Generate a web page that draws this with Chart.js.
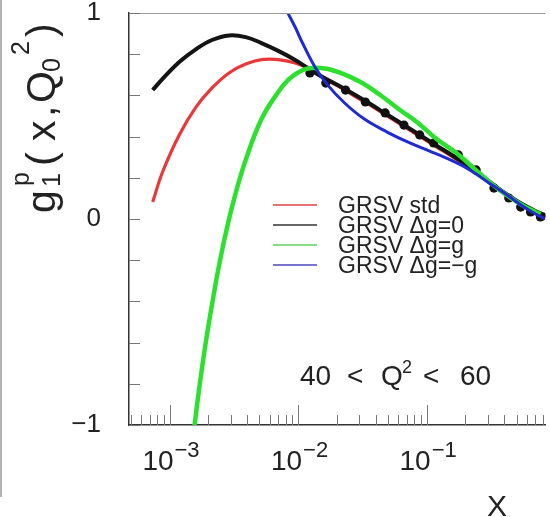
<!DOCTYPE html>
<html>
<head>
<meta charset="utf-8">
<script src="https://cdn.jsdelivr.net/npm/chart.js@4.4.0/dist/chart.umd.min.js"></script>
<style>
  html, body { margin: 0; padding: 0; background: #fff; overflow: hidden; }
</style>
</head>
<body>
<canvas id="plot" width="550" height="517"></canvas>
<script>
// ---- data -------------------------------------------------------------------
const stdX = [7.4e-4, 8.83e-4, 1.19e-3, 1.61e-3, 2.14e-3, 2.9e-3, 3.91e-3, 5.19e-3, 7.01e-3, 9.48e-3, 0.0119, 0.015,
  0.0203, 0.0274, 0.0365, 0.0492, 0.0665, 0.0883, 0.119, 0.161, 0.214, 0.29, 0.391, 0.519, 0.701, 0.948];
const stdY = [0.083, 0.228, 0.408, 0.544, 0.636, 0.709, 0.752, 0.774, 0.774, 0.757, 0.731, 0.692,
  0.646, 0.597, 0.551, 0.5, 0.449, 0.401, 0.35, 0.299, 0.248, 0.187, 0.126, 0.078, 0.034, 0.002];

const zeroX = [7.4e-4, 8.83e-4, 1.19e-3, 1.61e-3, 2.14e-3, 2.9e-3, 3.91e-3, 5.19e-3, 7.01e-3, 9.48e-3, 0.0119, 0.015,
  0.0203, 0.0274, 0.0365, 0.0492, 0.0665, 0.0883, 0.119, 0.161, 0.214, 0.29, 0.391, 0.519, 0.701, 0.948];
const zeroY = [0.626, 0.68, 0.762, 0.825, 0.869, 0.891, 0.883, 0.854, 0.816, 0.772, 0.733, 0.694,
  0.65, 0.604, 0.558, 0.507, 0.456, 0.408, 0.357, 0.306, 0.255, 0.194, 0.133, 0.083, 0.039, 0.005];

const plusX = [1.56e-3, 1.671e-3, 1.794e-3, 1.96e-3, 2.143e-3, 2.382e-3, 2.698e-3, 3.162e-3, 3.91e-3, 5.19e-3, 7.01e-3,
  8.38e-3, 0.01, 0.01194, 0.01615, 0.02143, 0.03055, 0.0435, 0.06197, 0.08377, 0.1194, 0.1702, 0.2559, 0.3275,
  0.4508, 0.5873, 0.7667];
const plusY = [-1.01, -0.859, -0.718, -0.558, -0.413, -0.252, -0.087, 0.092, 0.286, 0.485, 0.617,
  0.675, 0.711, 0.731, 0.731, 0.709, 0.665, 0.602, 0.529, 0.471, 0.388, 0.32, 0.223, 0.165,
  0.102, 0.058, 0.024];

const minusX = [8.09e-3, 9.48e-3, 0.01054, 0.01352, 0.01701, 0.023, 0.03276, 0.04924, 0.07395, 0.1055, 0.1425,
  0.1927, 0.2424, 0.3054, 0.3912, 0.4666, 0.5873, 0.7018, 0.8375];
const minusY = [1.015, 0.932, 0.869, 0.738, 0.65, 0.563, 0.485, 0.422, 0.369, 0.33, 0.296,
  0.257, 0.218, 0.175, 0.131, 0.097, 0.053, 0.024, 0.0];

// measured points
const dataX = [0.01236, 0.01642, 0.02339, 0.03335, 0.04753, 0.0665, 0.0883, 0.1132, 0.1762, 0.2424, 0.3334,
  0.4348, 0.5383, 0.6425, 0.7667];
const dataY = [0.709, 0.66, 0.626, 0.568, 0.515, 0.456, 0.408, 0.369, 0.311, 0.238, 0.15,
  0.102, 0.058, 0.034, 0.01];

// axes
const xMin = 4.84e-4, xMax = 0.838;
const xTickExps = [-3, -2, -1];
const yTickValues = [-1, 0, 1];
const yTickLabels = ["\u22121", "0", "1"];

const legendLabels = ["GRSV std", "GRSV \u0394g=0", "GRSV \u0394g=g", "GRSV \u0394g=\u2212g"];
const FONT = '"Liberation Sans", Arial, Helvetica, sans-serif';

function pts(xs, ys) {
  return xs.map((x, i) => ({ x: x, y: ys[i] }));
}

////ROOT style frame, inward ticks and texts////////////////////////////////////
const rootStyle = {
  id: "rootStyle",
  afterDraw(chart) {
    const ctx = chart.ctx;
    const a = chart.chartArea;
    const xs = chart.scales.x, ys = chart.scales.y;
    ctx.save();

    // edge of neighbouring panel
    ctx.strokeStyle = "#999";
    ctx.lineWidth = 1.5;
    ctx.beginPath(); ctx.moveTo(1, 0); ctx.lineTo(1, 497); ctx.stroke();

    // top frame line
    ctx.strokeStyle = "#9a9a9a";
    ctx.lineWidth = 1;
    ctx.beginPath(); ctx.moveTo(a.left, a.top + 0.5); ctx.lineTo(a.right, a.top + 0.5); ctx.stroke();

    // y ticks pointing inward
    ctx.strokeStyle = "#777";
    ctx.lineWidth = 1;
    ys.ticks.forEach(t => {
      const py = Math.round(ys.getPixelForValue(t.value)) + 0.5;
      ctx.beginPath(); ctx.moveTo(a.left, py); ctx.lineTo(a.left + 11, py); ctx.stroke();
    });

    // x ticks pointing inward
    for (let d = -4; d <= 0; d++) {
      for (let m = 1; m <= 9; m++) {
        const v = m * Math.pow(10, d);
        if (v < xMin || v > xMax) continue;
        const px = Math.round(xs.getPixelForValue(v)) + 0.5;
        const len = m === 1 ? 20 : 10;
        ctx.beginPath(); ctx.moveTo(px, a.bottom); ctx.lineTo(px, a.bottom - len); ctx.stroke();
      }
    }

    // x tick labels 10^n
    ctx.fillStyle = "#222";
    ctx.textBaseline = "alphabetic";
    xTickExps.forEach(e => {
      const px = xs.getPixelForValue(Math.pow(10, e));
      ctx.font = "28px " + FONT;
      ctx.textAlign = "right";
      ctx.fillText("10", px + 4, 470);
      ctx.font = "22px " + FONT;
      ctx.textAlign = "left";
      ctx.fillText("\u2212" + Math.abs(e), px + 5, 457);
    });

    // x title
    ctx.font = "30px " + FONT;
    ctx.textAlign = "center";
    ctx.fillText("X", 497, 516);

    // y title g1p(x,Q0^2)
    const titleParts = [
      ["g", 0, "main"], ["1", 26, "sub"], ["p", 27, "sup"], ["(", 47, "main"], ["x", 72, "main"],
      [",", 96, "main"], ["Q", 110, "main"], ["0", 141, "sub"], ["2", 158, "sup"], [")", 176, "main"]
    ];
    ctx.save();
    ctx.translate(55, 213);
    ctx.rotate(-Math.PI / 2);
    ctx.textAlign = "left";
    titleParts.forEach(p => {
      ctx.font = (p[2] === "main" ? "41px " : "25px ") + FONT;
      const dy = p[2] === "sub" ? 5 : p[2] === "sup" ? -26 : 0;
      ctx.fillText(p[0], p[1], dy);
    });
    ctx.restore();

    // legend
    ctx.font = "23px " + FONT;
    ctx.textAlign = "left";
    const legendSets = chart.data.datasets.filter(ds => ds.legendOrder !== undefined)
      .sort((p, q) => p.legendOrder - q.legendOrder);
    legendSets.forEach((ds, i) => {
      const ry = 205 + i * 20;
      ctx.strokeStyle = ds.legendColor;
      ctx.lineWidth = 1.5;
      ctx.beginPath(); ctx.moveTo(273, ry); ctx.lineTo(317, ry); ctx.stroke();
      ctx.fillStyle = "#222";
      ctx.fillText(ds.label, 338, ry + 8);
    });

    // Q2 range
    ctx.font = "28px " + FONT;
    ctx.fillText("40", 300, 385);
    ctx.fillText("<", 347, 385);
    ctx.fillText("Q", 381, 385);
    ctx.font = "18px " + FONT;
    ctx.fillText("2", 402, 373);
    ctx.font = "28px " + FONT;
    ctx.fillText("<", 423, 385);
    ctx.fillText("60", 460, 385);

    ctx.restore();
  }
};

////render chart////////////////////////////////////////////////////////////////
const plot = document.getElementById("plot");
const myChart = new Chart(plot, {
  type: "line",
  data: {
    datasets: [
      {
        label: legendLabels[3], legendOrder: 3, legendColor: "#4a4ac0",
        data: pts(minusX, minusY), borderColor: "#1f2bd0", borderWidth: 3,
        pointRadius: 0, tension: 0.4, fill: false
      },
      {
        label: legendLabels[2], legendOrder: 2, legendColor: "#5fd05f",
        data: pts(plusX, plusY), borderColor: "#2ee02e", borderWidth: 4.5,
        pointRadius: 0, tension: 0.4, fill: false
      },
      {
        label: "data",
        data: pts(dataX, dataY), showLine: false,
        pointRadius: 4.6, pointBorderWidth: 0, pointBackgroundColor: "#111"
      },
      {
        label: legendLabels[1], legendOrder: 1, legendColor: "#333",
        data: pts(zeroX, zeroY), borderColor: "#141414", borderWidth: 4,
        pointRadius: 0, tension: 0.4, fill: false
      },
      {
        label: legendLabels[0], legendOrder: 0, legendColor: "#e04545",
        data: pts(stdX, stdY), borderColor: "#e8383a", borderWidth: 3.2,
        pointRadius: 0, tension: 0.4, fill: false
      }
    ]
  },
  options: {
    responsive: false,
    animation: false,
    layout: { padding: { top: 13, left: 0, right: 0, bottom: 0 } },
    plugins: {
      legend: { display: false },
      tooltip: { enabled: false }
    },
    scales: {
      x: {
        type: "logarithmic",
        min: xMin,
        max: xMax,
        grid: { display: false, drawTicks: false },
        ticks: { display: false },
        border: { display: true, color: "#333", width: 1.5 },
        afterFit: s => { s.height = 92; s.paddingLeft = 0; s.paddingRight = 0; }
      },
      y: {
        min: -1,
        max: 1,
        grid: { display: false, drawTicks: false },
        border: { display: true, color: "#333", width: 1.5 },
        ticks: {
          stepSize: 0.2,
          autoSkip: false,
          padding: 28,
          color: "#222",
          font: { family: FONT, size: 26 },
          callback: v => {
            const i = yTickValues.findIndex(t => Math.abs(t - v) < 1e-6);
            return i >= 0 ? yTickLabels[i] : "";
          }
        },
        afterFit: s => { s.width = 129; s.paddingTop = 0; s.paddingBottom = 0; }
      }
    }
  },
  plugins: [rootStyle]
});
</script>
</body>
</html>
